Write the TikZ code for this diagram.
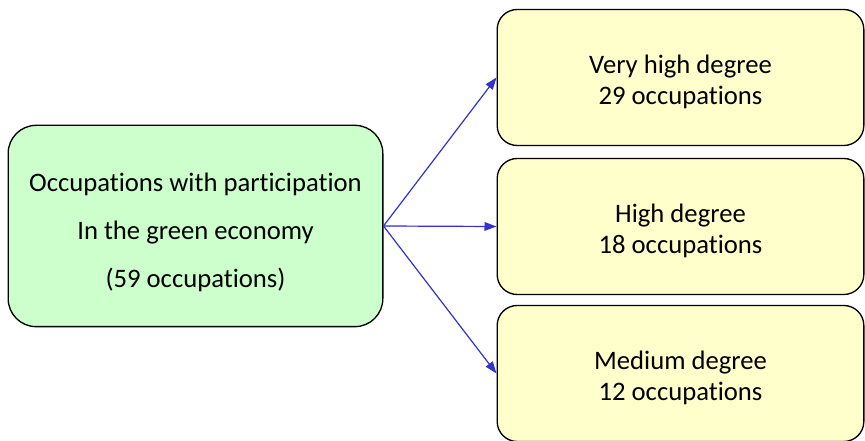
\documentclass[tikz,border=0pt]{standalone}
\usepackage{fontspec}
\setmainfont[RawFeature=-liga]{Carlito}
\usetikzlibrary{arrows.meta, positioning}

\definecolor{greenfill}{HTML}{CCFFCC}
\definecolor{yellowfill}{HTML}{FFFFCC}
\definecolor{arrowblue}{HTML}{3333CC}

\begin{document}
\begin{tikzpicture}[
    x=0.75pt, y=-0.75pt,
    box/.style={
        rectangle,
        draw,
        line width=1pt,
        rounded corners=15pt,
        align=center,
        inner sep=0pt
    },
    srcbox/.style={
        box,
        fill=greenfill,
        minimum width=281pt,
        minimum height=151pt,
        rounded corners=21pt,
        font=\fontsize{20}{36}\selectfont
    },
    degbox/.style={
        box,
        fill=yellowfill,
        minimum width=275pt,
        minimum height=102pt,
        font=\fontsize{20}{23.5}\selectfont
    },
    arrow/.style={
        -{Triangle[length=9pt, width=6.5pt]},
        draw=arrowblue,
        fill=arrowblue,
        line width=0.9pt
    }
]
\useasboundingbox (0,0) rectangle (865,441);

% Nodes
\node[srcbox] (occ) at (195.5,226) {\rule{0pt}{23pt}Occupations with participation\\In the green economy\\(59 occupations)};
\node[degbox] (vhigh) at (680.5,77.5) {\rule{0pt}{20pt}Very high degree\\29 occupations};
\node[degbox] (high) at (680.5,226.5) {\rule{0pt}{20pt}High degree\\18 occupations};
\node[degbox] (medium) at (680.5,373.5) {\rule{0pt}{20pt}Medium degree\\12 occupations};

% Arrows
\draw[arrow] (occ.east) -- (vhigh.west);
\draw[arrow] (occ.east) -- (high.west);
\draw[arrow] (occ.east) -- (medium.west);

\end{tikzpicture}
\end{document}
